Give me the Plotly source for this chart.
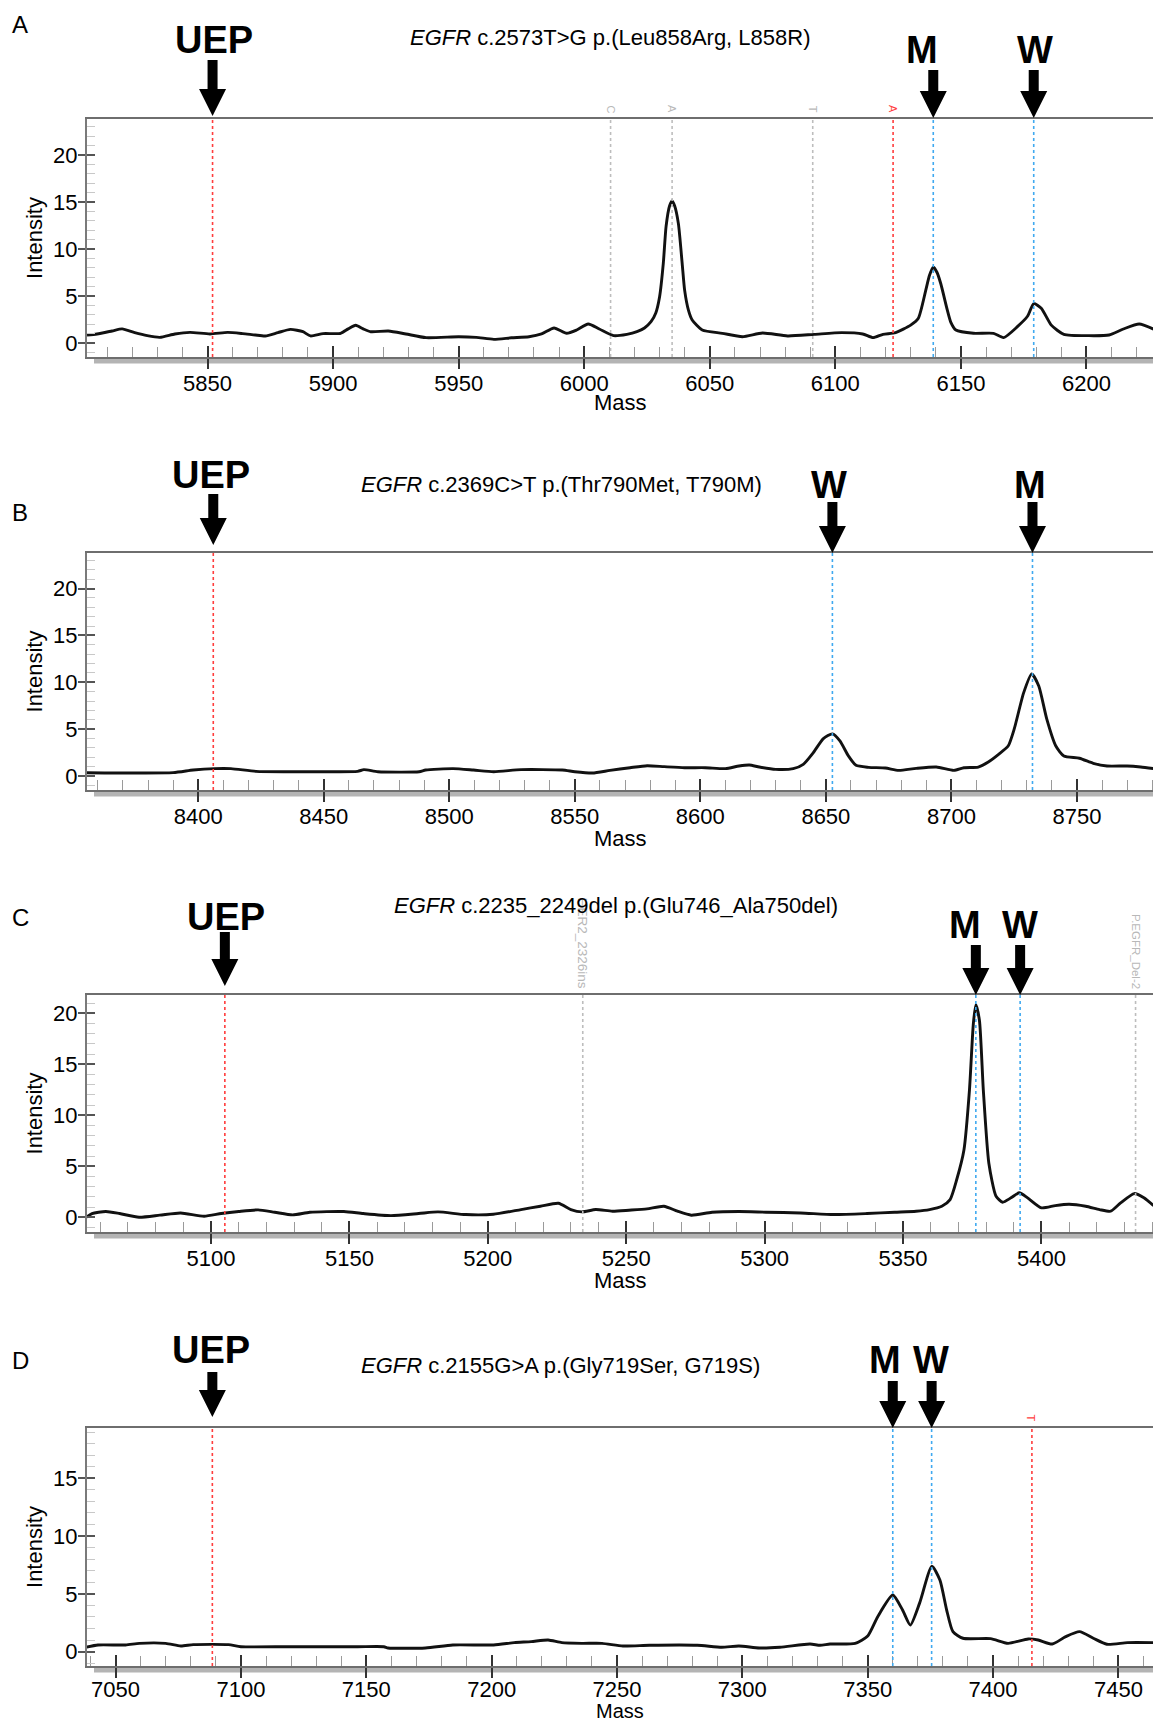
import plotly.graph_objects as go

# ---------------- data ----------------
# Panel A  EGFR c.2573T>G
mass_A = [5802, 5806, 5812, 5816, 5821, 5826, 5831, 5837, 5843, 5851, 5858, 5864, 5869, 5873,
          5878, 5883, 5888, 5891, 5896, 5903, 5906, 5909, 5912, 5915, 5922, 5929, 5937, 5950,
          5957, 5964, 5971, 5978, 5983, 5988, 5993, 5997, 6001.6, 6006, 6011.7, 6017, 6021,
          6024, 6026.6, 6028.5, 6030, 6031.5, 6032.6, 6034, 6035, 6036, 6037.5, 6039, 6040,
          6041.5, 6043, 6047, 6055, 6063, 6071, 6081, 6091.6, 6102.5, 6110.9, 6115, 6119, 6124,
          6130, 6133, 6136, 6137.5, 6139, 6140.5, 6142, 6144.6, 6146, 6148, 6155, 6163, 6167,
          6172.5, 6176.6, 6179, 6182, 6186, 6191, 6201, 6209, 6214.7, 6221, 6227]
intensity_A = [0.85, 0.96, 1.28, 1.50, 1.10, 0.78, 0.60, 0.96, 1.13, 0.96, 1.13, 1.0, 0.85, 0.75,
               1.1, 1.45, 1.2, 0.75, 1.0, 1.03, 1.5, 1.88, 1.5, 1.2, 1.28, 0.96, 0.57, 0.67,
               0.6, 0.39, 0.55, 0.67, 0.96, 1.6, 1.03, 1.38, 2.02, 1.49, 0.78, 0.92, 1.2,
               1.6, 2.27, 3.2, 4.9, 8.5, 12.4, 14.6, 15.1, 14.6, 12.7, 8.5, 5.6,
               3.5, 2.45, 1.38, 1.03, 0.67, 1.06, 0.75, 0.92, 1.1, 0.96, 0.57, 0.92, 1.1,
               1.9, 2.6, 5.6, 7.2, 8.1, 7.5, 6.3, 3.5, 2.2, 1.38, 1.03, 1.03, 0.57,
               1.74, 2.87, 4.2, 3.7, 1.9, 0.92, 0.78, 0.85, 1.49, 2.02, 1.45]

# Panel B  EGFR c.2369C>T
mass_B = [8355, 8390, 8398, 8406.5, 8413, 8423, 8436, 8450, 8463.5, 8466, 8471.6, 8488, 8490.6,
          8501.5, 8509.6, 8517.7, 8528.6, 8545, 8550, 8557, 8564, 8572, 8578.8, 8585.6, 8593.7,
          8602, 8610, 8615.4, 8619.5, 8623.5, 8630, 8637, 8641, 8645, 8649, 8652.6, 8655.6,
          8659, 8662, 8667, 8673.7, 8679, 8686, 8694, 8701, 8705, 8710.7, 8714.7, 8718.8,
          8722.6, 8725, 8728.8, 8732, 8734.8, 8738, 8741.6, 8744.8, 8751, 8756.5, 8762, 8770,
          8775.4, 8780.5]
intensity_B = [0.36, 0.36, 0.64, 0.79, 0.79, 0.5, 0.46, 0.46, 0.5, 0.68, 0.46, 0.46, 0.64,
               0.79, 0.64, 0.46, 0.68, 0.64, 0.46, 0.32, 0.6, 0.89, 1.1, 1.0, 0.89,
               0.89, 0.79, 1.07, 1.18, 0.96, 0.71, 0.79, 1.25, 2.5, 4.0, 4.5, 3.75,
               2.14, 1.14, 0.93, 0.86, 0.6, 0.82, 0.96, 0.6, 0.89, 0.96, 1.5, 2.32,
               3.2, 5.0, 8.9, 10.9, 9.6, 6.07, 3.2, 2.14, 1.9, 1.36, 1.07, 1.07,
               0.96, 0.79]

# Panel C  EGFR c.2235_2249del
mass_C = [5055, 5057, 5062, 5067, 5074, 5081.5, 5089, 5097.5, 5103.7, 5110, 5117, 5123, 5129.5,
          5135.7, 5148, 5155, 5165, 5175, 5182, 5192, 5202, 5212, 5219, 5225.5, 5230, 5234,
          5239, 5245, 5251, 5257.5, 5263.6, 5268.5, 5273.5, 5281, 5290.7, 5300.5, 5313, 5325,
          5337, 5347, 5354.7, 5359.6, 5364, 5367, 5369.4, 5372, 5374, 5375.4, 5376.3, 5377.6,
          5379, 5381, 5383.6, 5386, 5389, 5392, 5395, 5400, 5405, 5410, 5416, 5421, 5425,
          5428.6, 5433.5, 5437, 5440.5]
intensity_C = [0.0, 0.36, 0.56, 0.36, 0.0, 0.2, 0.42, 0.1, 0.36, 0.56, 0.72, 0.49, 0.23,
               0.49, 0.56, 0.36, 0.16, 0.36, 0.52, 0.26, 0.29, 0.75, 1.08, 1.37, 0.75, 0.52,
               0.75, 0.59, 0.69, 0.82, 1.08, 0.59, 0.2, 0.49, 0.56, 0.49, 0.42, 0.26,
               0.36, 0.49, 0.59, 0.75, 1.08, 1.73, 3.7, 6.6, 12.5, 19.0, 20.85, 19.3,
               12.5, 5.3, 2.06, 1.47, 1.9, 2.4, 1.9, 0.92, 1.14, 1.27, 1.08, 0.75, 0.59,
               1.4, 2.32, 1.9, 1.14]

# Panel D  EGFR c.2155G>A
mass_D = [7038, 7043, 7054, 7059.5, 7070, 7076, 7081, 7095, 7100, 7119, 7146.5, 7157, 7158.7,
          7173.6, 7184.5, 7200.8, 7209, 7215.8, 7222.5, 7228, 7236, 7244, 7252.4, 7263, 7282,
          7291.8, 7298.6, 7306.8, 7315, 7327, 7331, 7335, 7345, 7350, 7354, 7360, 7363.9,
          7367, 7370.7, 7375.6, 7378.8, 7381.5, 7384, 7388, 7399, 7406, 7414, 7418, 7423.6,
          7429, 7434.5, 7440, 7445.4, 7453.6, 7464]
intensity_D = [0.38, 0.58, 0.58, 0.72, 0.72, 0.49, 0.61, 0.61, 0.43, 0.43, 0.43, 0.43, 0.32,
               0.32, 0.58, 0.58, 0.78, 0.87, 1.01, 0.78, 0.72, 0.72, 0.49, 0.55, 0.55,
               0.38, 0.49, 0.32, 0.38, 0.66, 0.55, 0.66, 0.72, 1.36, 3.03, 4.9, 3.6,
               2.3, 4.2, 7.4, 6.2, 3.6, 1.73, 1.16, 1.13, 0.72, 1.1, 1.01, 0.66,
               1.3, 1.73, 1.16, 0.64, 0.78, 0.78]

# x ranges, tick labels
xrange_A = [5802, 6226.5]
xrange_B = [8355.7, 8780.3]
xrange_C = [5055.2, 5440.3]
xrange_D = [7038.6, 7463.8]
xticks_A = [5850, 5900, 5950, 6000, 6050, 6100, 6150, 6200]
xticks_B = [8400, 8450, 8500, 8550, 8600, 8650, 8700, 8750]
xticks_C = [5100, 5150, 5200, 5250, 5300, 5350, 5400]
xticks_D = [7050, 7100, 7150, 7200, 7250, 7300, 7350, 7400, 7450]
yticks_ABC = [0, 5, 10, 15, 20]
yticks_D = [0, 5, 10, 15]
yrange_A = [-1.49, 23.83]
yrange_B = [-1.49, 23.8]
yrange_C = [-1.45, 21.8]
yrange_D = [-1.24, 19.35]

# vertical marker lines (mass, kind, label)
lines_mass_A = [5852, 6010.5, 6035, 6091, 6123, 6139, 6179]
lines_kind_A = ["red", "grey", "grey", "grey", "red", "blue", "blue"]
lines_text_A = ["", "C", "A", "T", "A", "", ""]
lines_mass_B = [8406, 8652.6, 8732.3]
lines_kind_B = ["red", "blue", "blue"]
lines_text_B = ["", "", ""]
lines_mass_C = [5105, 5234.3, 5376.3, 5392.3, 5434]
lines_kind_C = ["red", "grey", "blue", "blue", "grey"]
lines_text_C = ["", "HER2_2326ins", "", "", "P.EGFR_Del-2"]
lines_mass_D = [7088.6, 7360, 7375.5, 7415.5]
lines_kind_D = ["red", "blue", "blue", "red"]
lines_text_D = ["", "", "", "T"]

# arrow markers (label, mass)
arrows_A = [("UEP", 5852), ("M", 6139), ("W", 6179)]
arrows_B = [("UEP", 8406), ("W", 8652.6), ("M", 8732.3)]
arrows_C = [("UEP", 5105), ("M", 5376.3), ("W", 5392.3)]
arrows_D = [("UEP", 7088.6), ("M", 7360), ("W", 7375.5)]

letters = ["A", "B", "C", "D"]
titles = ["<i>EGFR</i> c.2573T>G p.(Leu858Arg, L858R)",
          "<i>EGFR</i> c.2369C>T p.(Thr790Met, T790M)",
          "<i>EGFR</i> c.2235_2249del p.(Glu746_Ala750del)",
          "<i>EGFR</i> c.2155G>A p.(Gly719Ser, G719S)"]
x_title = "Mass"
y_title = "Intensity"

# ---------------- layout geometry (pixels) ----------------
W, H = 1153, 1723
FONT = "Liberation Sans, Arial, Helvetica, sans-serif"
FS = 22
plot_left = 87
panel_tb = [(119, 357), (553, 790), (995, 1232), (1428, 1666)]
letter_pos = [(20, 24), (20, 512), (20, 918), (20, 1360)]
title_pos = [(610, 37), (561, 485), (616, 905), (560, 1365)]
mass_title_y = [403, 838, 1280, None]   # bottom panel: title sits on the lower edge
xlabel_standoff = [-4, -4, -4, -7]
label_pos = [
    [(214, 40), (922, 50), (1035, 50)],
    [(211, 475), (829, 485), (1030, 485)],
    [(226, 917), (965, 925), (1020, 925)],
    [(211, 1350), (885, 1360), (931, 1360)],
]
# (tip offset above plot top, length) for UEP and for M/W arrows
arrow_geom = [((3, 56), (1, 48)), ((8, 51), (0, 51)), ((9, 54), (0, 50)), ((11, 45), (0, 47))]
small_label_size = {"HER2_2326ins": 13.5, "P.EGFR_Del-2": 11.5}

def px(x):
    return x / W

def py(y):
    return 1 - y / H

colors = {"red": "#ff3d3d", "blue": "#3fa9f0", "grey": "#bdbdbd"}

panels = [
    (mass_A, intensity_A, xrange_A, xticks_A, yrange_A, yticks_ABC, lines_mass_A, lines_kind_A, lines_text_A, arrows_A),
    (mass_B, intensity_B, xrange_B, xticks_B, yrange_B, yticks_ABC, lines_mass_B, lines_kind_B, lines_text_B, arrows_B),
    (mass_C, intensity_C, xrange_C, xticks_C, yrange_C, yticks_ABC, lines_mass_C, lines_kind_C, lines_text_C, arrows_C),
    (mass_D, intensity_D, xrange_D, xticks_D, yrange_D, yticks_D, lines_mass_D, lines_kind_D, lines_text_D, arrows_D),
]

fig = go.Figure()
layout = dict(width=W, height=H, margin=dict(l=0, r=0, t=0, b=0, pad=0),
              paper_bgcolor="white", plot_bgcolor="white", showlegend=False,
              font=dict(family=FONT, size=FS, color="black"))
shapes = []
annotations = []

for i, (mx, iy, xr, xt, yr, yt, lm, lk, lt, arr) in enumerate(panels):
    n = i + 1
    ov = n + 4
    top, bot = panel_tb[i]
    dom_y = [py(bot), py(top)]
    dom_x = [px(plot_left), 1.0]
    xs = "" if n == 1 else str(n)
    xo = str(ov)

    fig.add_trace(go.Scatter(x=mx, y=iy, mode="lines", xaxis="x" + xs, yaxis="y" + xs,
                             line=dict(color="#111111", width=2.9, shape="spline", smoothing=0.6),
                             hoverinfo="skip"))
    fig.add_trace(go.Scatter(x=[xr[0]], y=[yr[0]], mode="markers", marker=dict(opacity=0),
                             xaxis="x" + xo, yaxis="y" + xo, hoverinfo="skip"))

    minor_x = [v for v in range(int(xt[0]) - 50, int(xr[1]) + 10, 10) if v not in xt]
    minor_y = [v for v in range(-1, int(yr[1]) + 1) if v not in yt]

    layout["xaxis" + xs] = dict(
        domain=dom_x, anchor="y" + xs, range=xr, tickmode="array", tickvals=xt,
        ticktext=[str(v) for v in xt], ticks="outside", ticklen=10, tickwidth=1.6,
        tickcolor="#333333", showline=True, linecolor="#6e6e6e", linewidth=2, mirror=True,
        showgrid=False, zeroline=False, tickfont=dict(size=FS, family=FONT),
        ticklabelstandoff=xlabel_standoff[i],
        minor=dict(tickmode="array", tickvals=minor_x, ticks="inside", ticklen=10,
                   tickcolor="#9a9a9a", tickwidth=1, showgrid=False),
    )
    layout["yaxis" + xs] = dict(
        domain=dom_y, anchor="x" + xs, range=yr, tickmode="array", tickvals=yt,
        ticktext=[str(v) for v in yt], ticks="outside", ticklen=7, tickwidth=1.6,
        tickcolor="#555555", showline=True, linecolor="#7a7a7a", linewidth=2,
        showgrid=False, zeroline=False, tickfont=dict(size=FS, family=FONT),
        ticklabelstandoff=-4,
        title=dict(text=y_title, font=dict(size=FS, family=FONT), standoff=4),
        minor=dict(tickmode="array", tickvals=minor_y, ticks="inside", ticklen=8,
                   tickcolor="#c8c8c8", tickwidth=1, showgrid=False),
    )
    layout["xaxis" + xo] = dict(
        overlaying="x" + xs, anchor="y" + xs, range=xr, tickmode="array", tickvals=xt,
        ticks="inside", ticklen=11, tickwidth=1.6, tickcolor="#333333",
        showticklabels=False, showline=False, showgrid=False, zeroline=False)
    layout["yaxis" + xo] = dict(
        overlaying="y" + xs, anchor="x" + xs, range=yr, tickmode="array", tickvals=yt,
        ticks="inside", ticklen=8, tickwidth=1.6, tickcolor="#555555",
        showticklabels=False, showline=False, showgrid=False, zeroline=False)

    # x axis title (placed as text so the bottom panel is not pushed up)
    if mass_title_y[i] is None:
        annotations.append(dict(text=x_title, x=px((plot_left + W) / 2), y=0,
                                xref="paper", yref="paper", xanchor="center", yanchor="bottom",
                                borderpad=0, showarrow=False, font=dict(size=20, family=FONT)))
    else:
        annotations.append(dict(text=x_title, x=px((plot_left + W) / 2), y=py(mass_title_y[i]),
                                xref="paper", yref="paper", xanchor="center", yanchor="middle",
                                showarrow=False, font=dict(size=FS, family=FONT)))

    # grey band under the x axis
    shapes.append(dict(type="rect", xref="paper", yref="paper", x0=px(94), x1=1.0,
                       y0=py(bot + 6.5), y1=py(bot), fillcolor="#b4b4b4",
                       line=dict(width=0), layer="below"))

    # vertical dotted marker lines + their small rotated labels
    for m, k, t in zip(lm, lk, lt):
        shapes.append(dict(type="line", xref="x" + xs, yref="y" + xs + " domain",
                           x0=m, x1=m, y0=0, y1=1,
                           line=dict(color=colors[k], width=1.6, dash="dot")))
        if t:
            annotations.append(dict(text=t, x=m, xref="x" + xs, y=py(top - 4), yref="paper",
                                    xanchor="center", yanchor="bottom", textangle=90,
                                    showarrow=False,
                                    font=dict(size=small_label_size.get(t, 11),
                                              color="#ff3d3d" if k == "red" else "#b8b8b8",
                                              family=FONT)))

    # arrows
    for j, (lab, m) in enumerate(arr):
        tip_up, length = arrow_geom[i][0] if lab == "UEP" else arrow_geom[i][1]
        hw, sw, hl = 13.5, 5, 27
        t0 = tip_up
        path = (f"M0,{t0} L{-hw},{t0 + hl} L{-sw},{t0 + hl} L{-sw},{t0 + length} "
                f"L{sw},{t0 + length} L{sw},{t0 + hl} L{hw},{t0 + hl} Z")
        shapes.append(dict(type="path", xref="x" + xs, yref="paper", xsizemode="pixel",
                           ysizemode="pixel", xanchor=m, yanchor=py(top), path=path,
                           fillcolor="black", line=dict(width=0), layer="above"))
        lx, ly = label_pos[i][j]
        annotations.append(dict(text=f"<b>{lab}</b>", x=px(lx), y=py(ly), xref="paper", yref="paper",
                                xanchor="center", yanchor="middle", showarrow=False,
                                font=dict(size=38, family=FONT, color="black")))

    # panel letter and title
    annotations.append(dict(text=letters[i], x=px(letter_pos[i][0]), y=py(letter_pos[i][1]),
                            xref="paper", yref="paper", xanchor="center", yanchor="middle",
                            showarrow=False, font=dict(size=24, family=FONT)))
    annotations.append(dict(text=titles[i], x=px(title_pos[i][0]), y=py(title_pos[i][1]),
                            xref="paper", yref="paper", xanchor="center", yanchor="middle",
                            showarrow=False, font=dict(size=FS, family=FONT)))

layout["shapes"] = shapes
layout["annotations"] = annotations
fig.update_layout(**layout)

fig.write_html("out.html", config={"displayModeBar": False},
               post_script="document.body.style.margin='0';")
